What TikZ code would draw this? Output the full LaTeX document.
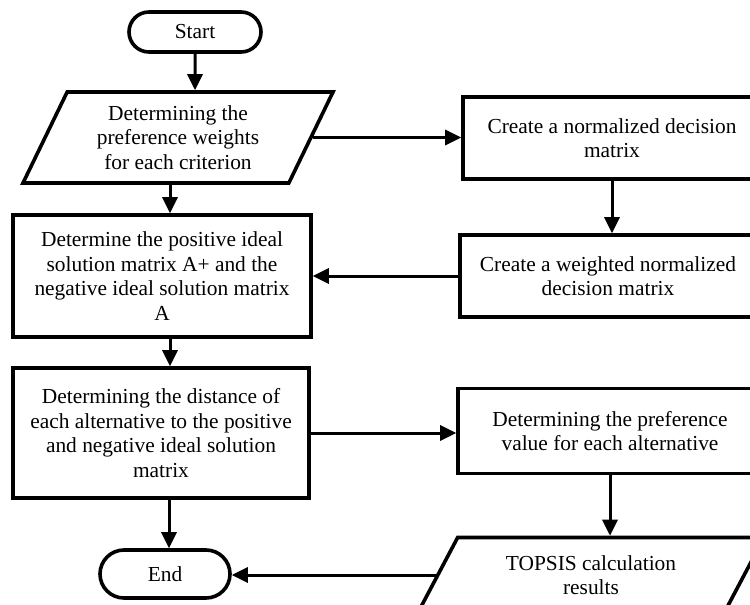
\documentclass[tikz,border=0pt]{standalone}
\usepackage{fontspec}
\setmainfont{Liberation Serif}
\usetikzlibrary{shapes.geometric,shapes.misc}
\usetikzlibrary{arrows.meta}
\tikzset{>={Triangle[width=7.5pt,length=8pt]}}

\begin{document}
\begin{tikzpicture}[x=0.5pt,y=-0.5pt]
          \tikzstyle{tnode} = [line width=1.8pt, draw=black, rounded rectangle, inner sep=0pt, align=center, font=\fontsize{10.7}{12.3}\selectfont]
          \tikzstyle{pnode} = [line width=1.8pt, draw=black, rectangle, inner sep=0pt, align=center, font=\fontsize{10.7}{12.3}\selectfont]
          \tikzstyle{ionode} = [line width=1.8pt, draw=black, trapezium, trapezium stretches body, inner sep=0pt, align=center, font=\fontsize{10.7}{12.3}\selectfont]

          \clip (0,0) rectangle (750,605);

          \node[tnode, minimum width=66pt, minimum height=20pt] (strt) at (195,32) {Start};
          \node[ionode, trapezium left angle=55.5, trapezium right angle=124.5, minimum width=155pt, minimum height=45.5pt] (wght) at (178,137.5) {Determining the\\preference weights\\for each criterion};
          \node[pnode, minimum width=149pt, minimum height=41pt] (norm) at (612,138) {Create a normalized decision\\matrix};
          \node[pnode, minimum width=148pt, minimum height=41pt] (wnrm) at (608,276) {Create a weighted normalized\\decision matrix};
          \node[pnode, minimum width=149pt, minimum height=61pt] (idel) at (162,276) {Determine the positive ideal\\solution matrix A+ and the\\negative ideal solution matrix\\A};
          \node[pnode, minimum width=148pt, minimum height=65pt] (dist) at (161,433) {Determining the distance of\\each alternative to the positive\\and negative ideal solution\\matrix};
          \node[pnode, minimum width=152pt, minimum height=42.5pt] (pref) at (610,431) {Determining the preference\\value for each alternative};
          \node[ionode, trapezium left angle=45, trapezium right angle=135, minimum width=173pt, minimum height=37.5pt] (rslt) at (591,575) {TOPSIS calculation\\results};
          \node[tnode, minimum width=65pt, minimum height=24pt] (fin) at (165,574) {End};

          \draw[->,line width=1.5pt] (strt) -- (strt |- wght.north);
          \draw[->,line width=1.5pt] (wght.east) -- (wght.east -| norm.west);
          \draw[->,line width=1.5pt] (norm) -- (norm |- wnrm.north);
          \draw[->,line width=1.5pt] ([xshift=4pt]wght.south -| idel.north) -- ([xshift=4pt]idel.north);
          \draw[->,line width=1.5pt] (wnrm.west) -- (wnrm.west -| idel.east);
          \draw[->,line width=1.5pt] ([xshift=4pt]idel.south) -- ([xshift=4pt]idel.south |- dist.north);
          \draw[->,line width=1.5pt] (dist.east) -- (dist.east -| pref.west);
          \draw[->,line width=1.5pt] (pref) -- (pref |- rslt.north);
          \draw[->,line width=1.5pt] (rslt.west) -- (rslt.west -| fin.east);
          \draw[->,line width=1.5pt] ([xshift=4pt]dist.south) -- ([xshift=4pt]dist.south |- fin.north);
        \end{tikzpicture}
\end{document}
